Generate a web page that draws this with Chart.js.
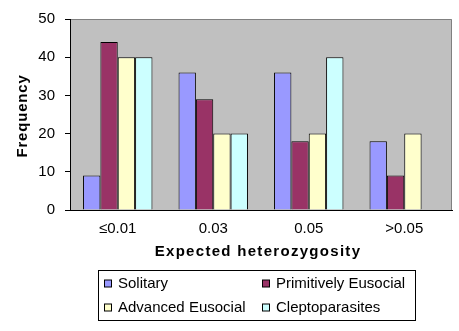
<!DOCTYPE html>
<html>
<head>
<meta charset="utf-8">
<script src="https://cdn.jsdelivr.net/npm/chart.js@4"></script>
<style>
  html, body { margin: 0; padding: 0; background: #ffffff; }
  #wrap { width: 459px; height: 331px; position: relative; }
</style>
</head>
<body>
<div id="wrap"><canvas id="c" width="459" height="331"></canvas></div>
<script>
// Categories of expected heterozygosity
const categories = ['\u22640.01', '0.03', '0.05', '>0.05'];

// Frequencies for each social group
const solitary = [9, 36, 36, 18];
const primitivelyEusocial = [44, 29, 18, 9];
const advancedEusocial = [40, 20, 20, 20];
const cleptoparasites = [40, 20, 40, 0];

const seriesNames = ['Solitary', 'Primitively Eusocial', 'Advanced Eusocial', 'Cleptoparasites'];
const seriesColors = ['#9999FF', '#993366', '#FFFFCC', '#CCFFFF'];
const seriesValues = [solitary, primitivelyEusocial, advancedEusocial, cleptoparasites];

const yTicks = [0, 10, 20, 30, 40, 50];

const xTitle = 'Expected heterozygosity';
const yTitle = 'Frequency';

const FONT = "'Liberation Sans', Arial, sans-serif";

// Grey plot background with a grey frame on top and right
const plotBackground = {
  id: 'plotBackground',
  beforeDraw(chart) {
    const { ctx, chartArea: a } = chart;
    ctx.save();
    ctx.fillStyle = '#C0C0C0';
    ctx.fillRect(a.left, a.top, a.right - a.left, a.bottom - a.top);
    ctx.strokeStyle = '#808080';
    ctx.lineWidth = 1;
    ctx.beginPath();
    ctx.moveTo(a.left, a.top + 0.5);
    ctx.lineTo(a.right - 0.5, a.top + 0.5);
    ctx.lineTo(a.right - 0.5, a.bottom);
    ctx.stroke();
    ctx.restore();
  }
};

// Bold, slightly spaced axis titles
const axisTitles = {
  id: 'axisTitles',
  afterDraw(chart) {
    const { ctx, chartArea: a } = chart;
    ctx.save();
    ctx.fillStyle = '#000000';
    ctx.font = 'bold 15px ' + FONT;
    ctx.textAlign = 'center';
    ctx.textBaseline = 'alphabetic';
    ctx.letterSpacing = '1.3px';
    ctx.fillText(xTitle, (a.left + a.right) / 2 - 3, 255.5);
    ctx.letterSpacing = '0.8px';
    ctx.translate(27, (a.top + a.bottom) / 2 + 1.5);
    ctx.rotate(-Math.PI / 2);
    ctx.fillText(yTitle, 0, 0);
    ctx.restore();
  }
};

// Boxed two-column legend below the axis title
const boxLegend = {
  id: 'boxLegend',
  afterDraw(chart) {
    const { ctx } = chart;
    const box = { x: 98.5, y: 270.5, w: 317, h: 50 };
    ctx.save();
    ctx.fillStyle = '#ffffff';
    ctx.fillRect(box.x, box.y, box.w, box.h);
    ctx.strokeStyle = '#000000';
    ctx.lineWidth = 1;
    ctx.strokeRect(box.x, box.y, box.w, box.h);
    const cols = [104, 262];
    const rows = [283.5, 307.5];
    ctx.font = '15px ' + FONT;
    ctx.textBaseline = 'middle';
    ctx.textAlign = 'left';
    chart.data.datasets.forEach((ds, i) => {
      const cx = cols[i % 2];
      const cy = rows[Math.floor(i / 2)];
      ctx.fillStyle = ds.backgroundColor;
      ctx.fillRect(cx + 0.5, cy - 3.5, 7, 7);
      ctx.strokeStyle = '#000000';
      ctx.strokeRect(cx + 0.5, cy - 3.5, 7, 7);
      ctx.fillStyle = '#000000';
      ctx.fillText(ds.label, cx + 14, cy + 0.5);
    });
    ctx.restore();
  }
};

new Chart(document.getElementById('c'), {
  type: 'bar',
  data: {
    labels: categories,
    datasets: seriesNames.map((name, i) => ({
      label: name,
      data: seriesValues[i],
      backgroundColor: seriesColors[i],
      borderColor: '#000000',
      borderWidth: 1,
      categoryPercentage: 0.727,
      barPercentage: 1.0
    }))
  },
  options: {
    responsive: false,
    animation: false,
    devicePixelRatio: 1,
    layout: { padding: { left: 0, right: 7, top: 11, bottom: 0 } },
    plugins: {
      legend: { display: false },
      tooltip: { enabled: false }
    },
    scales: {
      x: {
        afterFit(scale) { scale.height = 121; },
        grid: { display: true, drawOnChartArea: false, drawTicks: false },
        border: { display: true, color: '#000000', width: 1 },
        ticks: { color: '#000000', padding: 10, font: { family: FONT, size: 15 } },
        title: { display: false }
      },
      y: {
        min: 0,
        max: 50,
        afterFit(scale) { scale.width = 70; },
        afterBuildTicks(scale) { scale.ticks = yTicks.map(v => ({ value: v })); },
        grid: { display: true, drawOnChartArea: false, drawTicks: true, tickLength: 5, color: '#000000' },
        border: { display: true, color: '#000000', width: 1 },
        ticks: { color: '#000000', padding: 10, font: { family: FONT, size: 15 } },
        title: { display: false }
      }
    }
  },
  plugins: [plotBackground, axisTitles, boxLegend]
});
</script>
</body>
</html>
